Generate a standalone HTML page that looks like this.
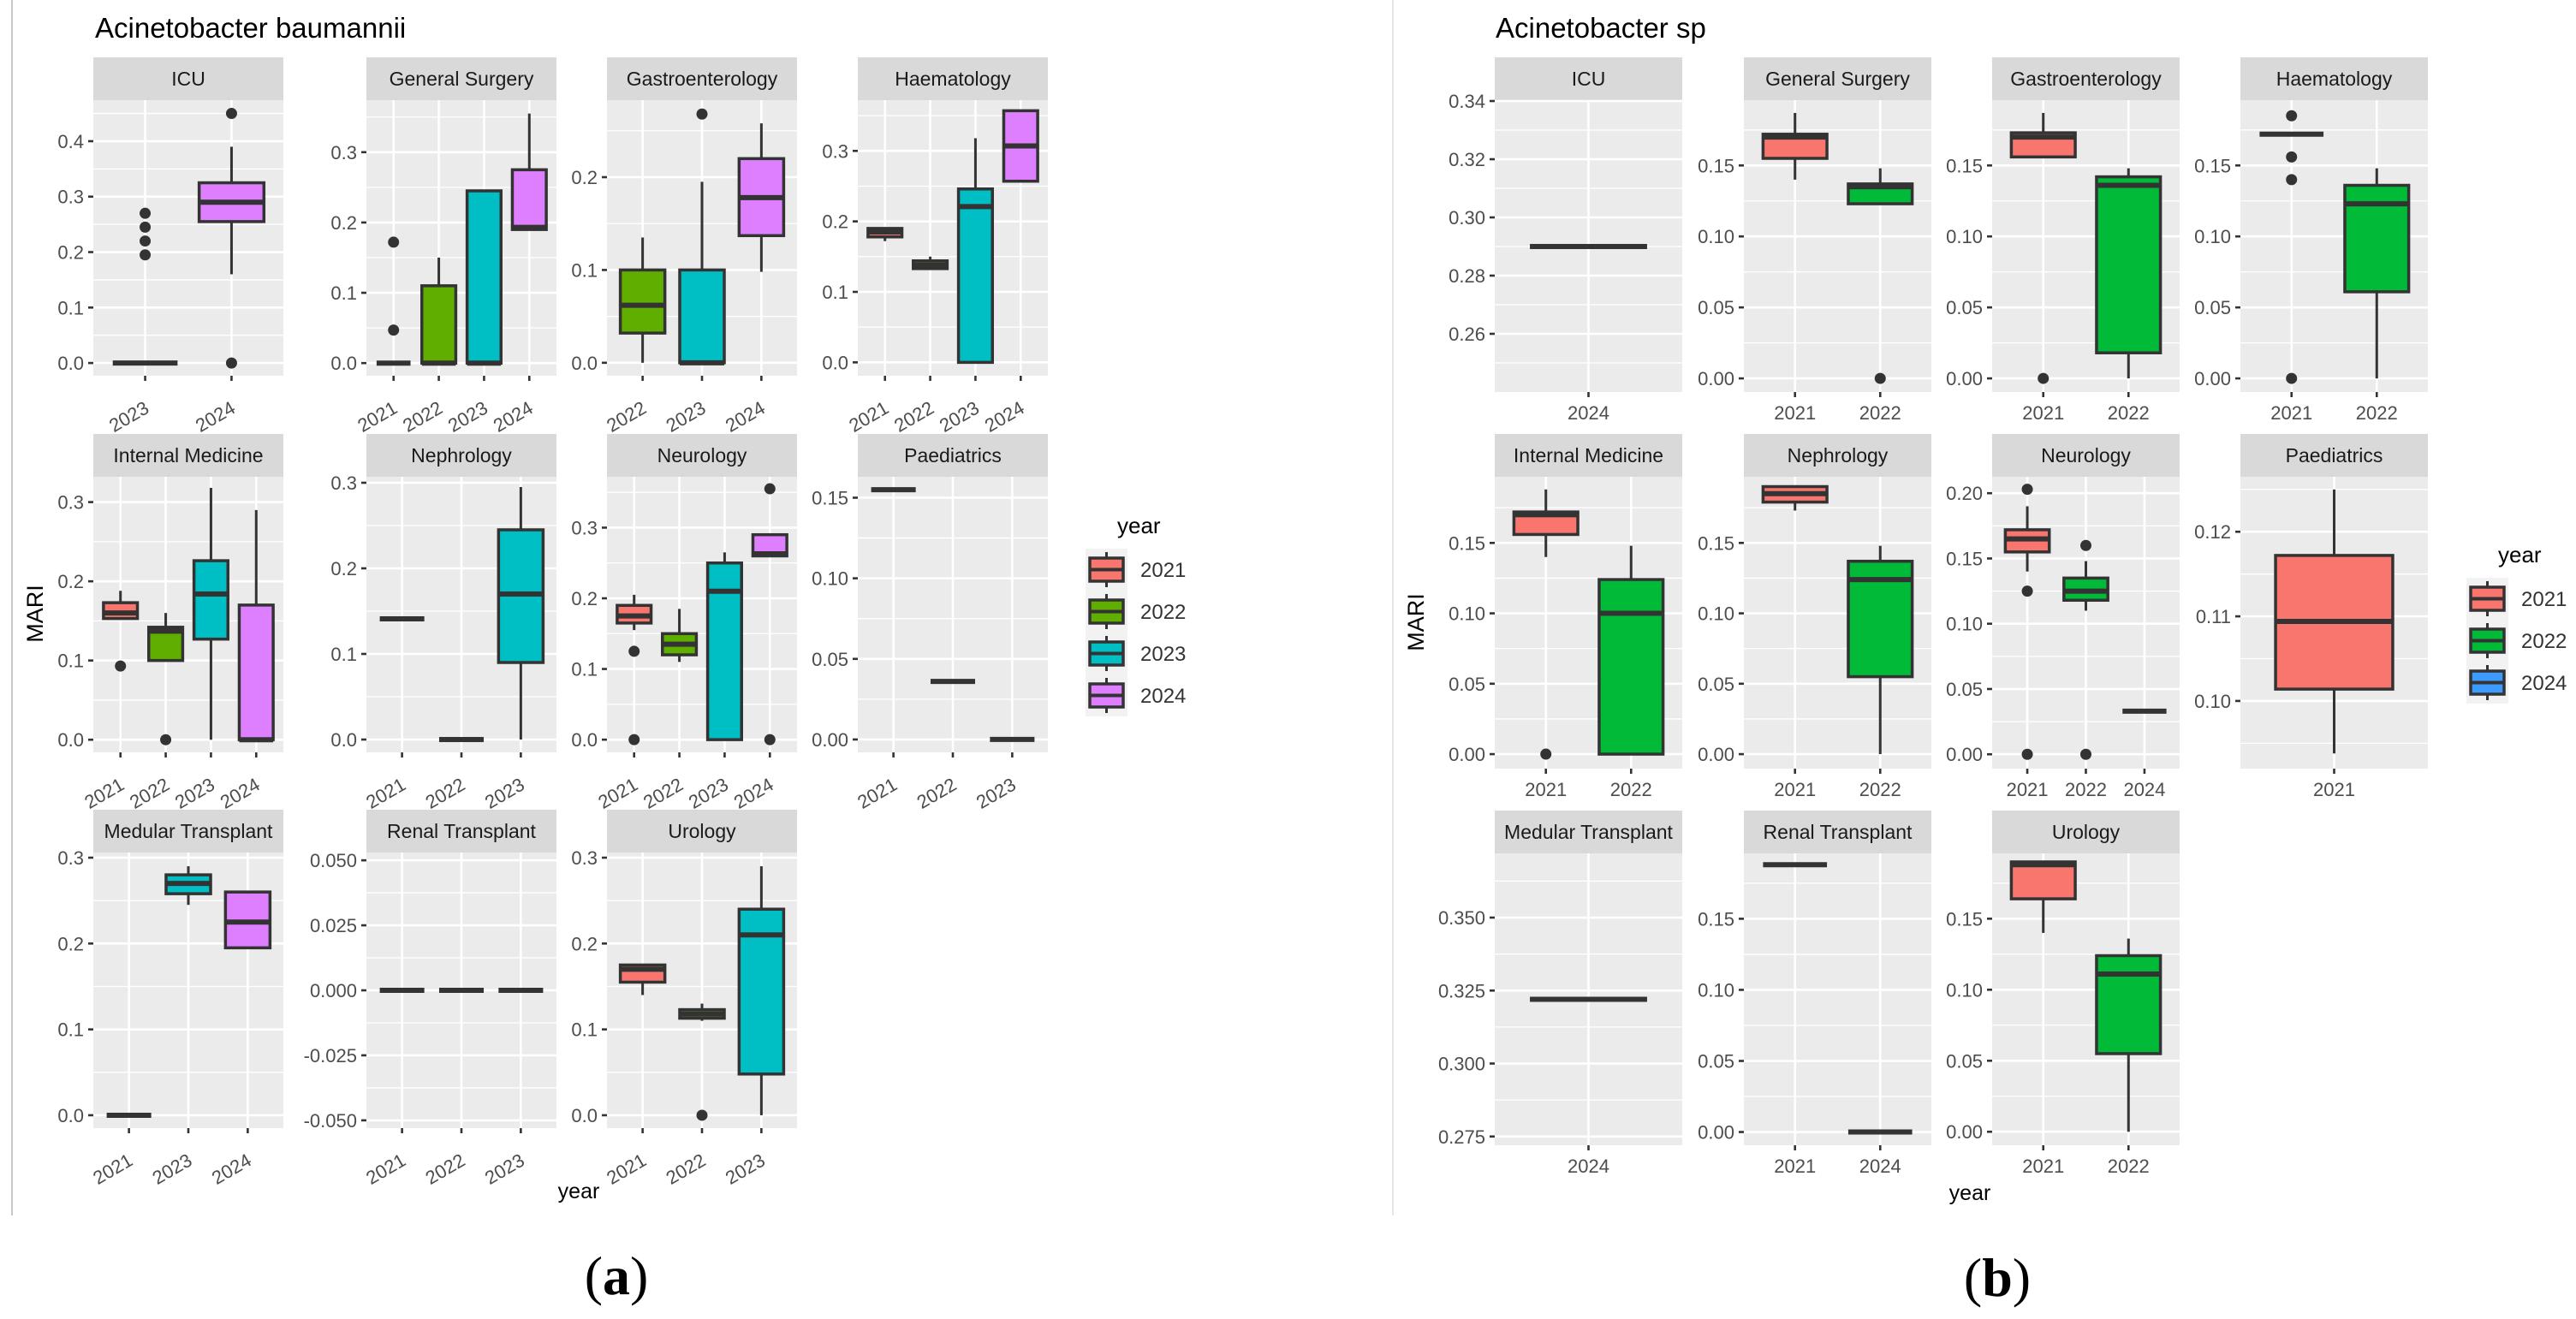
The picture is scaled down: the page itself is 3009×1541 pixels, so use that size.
<!DOCTYPE html>
<html><head><meta charset="utf-8"><title>MARI boxplots</title>
<style>
html,body{margin:0;padding:0;background:#fff;}
svg{display:block;font-family:"Liberation Sans",Arial,sans-serif;}
</style></head>
<body>
<svg id="fig" width="3009" height="1541" viewBox="0 0 3009 1541" xmlns="http://www.w3.org/2000/svg">
<rect x="0" y="0" width="3009" height="1541" fill="#fff"/>
<line x1="14" y1="0" x2="14" y2="1420" stroke="#c8c8c8" stroke-width="2"/>
<line x1="1627" y1="0" x2="1627" y2="1420" stroke="#e6e6e6" stroke-width="2"/>
<text x="111" y="44" font-size="33" fill="#000">Acinetobacter baumannii</text>
<text x="1747" y="44" font-size="33" fill="#000">Acinetobacter sp</text>
<text transform="translate(50,717) rotate(-90)" text-anchor="middle" font-size="27" fill="#000">MARI</text>
<text transform="translate(1663,727) rotate(-90)" text-anchor="middle" font-size="27" fill="#000">MARI</text>
<text x="676" y="1400" text-anchor="middle" font-size="25" fill="#000">year</text>
<text x="2301" y="1402" text-anchor="middle" font-size="25" fill="#000">year</text>
<text x="720" y="1512" text-anchor="middle" font-size="64" font-family="Liberation Serif, serif" fill="#000">(<tspan font-weight="bold">a</tspan>)</text>
<text x="2333" y="1514" text-anchor="middle" font-size="64" font-family="Liberation Serif, serif" fill="#000">(<tspan font-weight="bold">b</tspan>)</text>
<g id="chartA"></g>
<g id="chartB"></g>
</svg>
<script>
// ---------- Chart (a): Acinetobacter baumannii ----------
const aNames = ["ICU","General Surgery","Gastroenterology","Haematology","Internal Medicine","Nephrology","Neurology","Paediatrics","Medular Transplant","Renal Transplant","Urology"];
const aYears = [["2023","2024"],["2021","2022","2023","2024"],["2022","2023","2024"],["2021","2022","2023","2024"],["2021","2022","2023","2024"],["2021","2022","2023"],["2021","2022","2023","2024"],["2021","2022","2023"],["2021","2023","2024"],["2021","2022","2023"],["2021","2022","2023"]];
// stats per box: [lower whisker, q1, median, q3, upper whisker]
const aStats = [
 [[0,0,0,0,0],[0.16,0.255,0.29,0.325,0.39]],
 [[0,0,0,0,0],[0,0,0,0.11,0.15],[0,0,0,0.245,0.245],[0.19,0.19,0.193,0.275,0.355]],
 [[0,0.032,0.062,0.1,0.135],[0,0,0,0.1,0.195],[0.098,0.137,0.178,0.22,0.258]],
 [[0.172,0.178,0.185,0.19,0.19],[0.133,0.133,0.138,0.144,0.15],[0,0,0.221,0.246,0.318],[0.257,0.257,0.307,0.357,0.357]],
 [[0.153,0.153,0.16,0.173,0.188],[0.1,0.1,0.137,0.142,0.16],[0,0.127,0.184,0.226,0.318],[0,0,0,0.17,0.29]],
 [[0.141,0.141,0.141,0.141,0.141],[0,0,0,0,0],[0,0.09,0.17,0.245,0.295]],
 [[0.155,0.165,0.175,0.19,0.205],[0.11,0.12,0.135,0.15,0.185],[0,0,0.21,0.25,0.265],[0.26,0.26,0.263,0.29,0.29]],
 [[0.155,0.155,0.155,0.155,0.155],[0.036,0.036,0.036,0.036,0.036],[0,0,0,0,0]],
 [[0,0,0,0,0],[0.245,0.258,0.27,0.28,0.29],[0.195,0.195,0.225,0.26,0.26]],
 [[0,0,0,0,0],[0,0,0,0,0],[0,0,0,0,0]],
 [[0.14,0.155,0.17,0.175,0.175],[0.11,0.113,0.118,0.123,0.13],[0,0.048,0.21,0.24,0.29]]
];
const aOutliers = [
 [[0.195,0.22,0.245,0.27],[0.45,0]],
 [[0.047,0.172],[],[],[]],
 [[],[0.268],[]],
 [[],[],[],[]],
 [[0.093],[0],[],[]],
 [[],[],[]],
 [[0.125,0],[],[],[0.355,0]],
 [[],[],[]],
 [[],[],[]],
 [[],[],[]],
 [[],[0],[]]
];
const aTicks = [[0,0.1,0.2,0.3,0.4],[0,0.1,0.2,0.3],[0,0.1,0.2],[0,0.1,0.2,0.3],[0,0.1,0.2,0.3],[0,0.1,0.2,0.3],[0,0.1,0.2,0.3],[0,0.05,0.1,0.15],[0,0.1,0.2,0.3],[-0.05,-0.025,0,0.025,0.05],[0,0.1,0.2,0.3]];
const aRanges = [[-0.023,0.474],[-0.018,0.374],[-0.014,0.283],[-0.019,0.372],[-0.016,0.332],[-0.015,0.307],[-0.018,0.372],[-0.008,0.163],[-0.015,0.306],[-0.053,0.053],[-0.015,0.306]];
const aLegendYears = ["2021","2022","2023","2024"];

// ---------- Chart (b): Acinetobacter sp ----------
const bNames = ["ICU","General Surgery","Gastroenterology","Haematology","Internal Medicine","Nephrology","Neurology","Paediatrics","Medular Transplant","Renal Transplant","Urology"];
const bYears = [["2024"],["2021","2022"],["2021","2022"],["2021","2022"],["2021","2022"],["2021","2022"],["2021","2022","2024"],["2021"],["2024"],["2021","2024"],["2021","2022"]];
const bStats = [
 [[0.29,0.29,0.29,0.29,0.29]],
 [[0.14,0.155,0.17,0.172,0.187],[0.123,0.123,0.135,0.137,0.148]],
 [[0.156,0.156,0.17,0.173,0.187],[0,0.018,0.136,0.142,0.148]],
 [[0.172,0.172,0.172,0.172,0.172],[0,0.061,0.123,0.136,0.148]],
 [[0.14,0.156,0.17,0.172,0.188],[0,0,0.1,0.124,0.148]],
 [[0.173,0.179,0.185,0.19,0.19],[0,0.055,0.124,0.137,0.148]],
 [[0.14,0.155,0.165,0.172,0.19],[0.11,0.118,0.125,0.135,0.148],[0.033,0.033,0.033,0.033,0.033]],
 [[0.0938,0.1014,0.1094,0.1172,0.125]],
 [[0.322,0.322,0.322,0.322,0.322]],
 [[0.188,0.188,0.188,0.188,0.188],[0,0,0,0,0]],
 [[0.14,0.164,0.188,0.19,0.19],[0,0.055,0.111,0.124,0.136]]
];
const bOutliers = [
 [[]],
 [[],[0]],
 [[0],[]],
 [[0.185,0.156,0.14,0],[]],
 [[0],[]],
 [[],[]],
 [[0.203,0.125,0],[0.16,0],[]],
 [[]],
 [[]],
 [[],[]],
 [[],[]]
];
const bTicks = [[0.26,0.28,0.30,0.32,0.34],[0,0.05,0.1,0.15],[0,0.05,0.1,0.15],[0,0.05,0.1,0.15],[0,0.05,0.1,0.15],[0,0.05,0.1,0.15],[0,0.05,0.1,0.15,0.2],[0.10,0.11,0.12],[0.275,0.3,0.325,0.35],[0,0.05,0.1,0.15],[0,0.05,0.1,0.15]];
const bRanges = [[0.240,0.3403],[-0.0096,0.196],[-0.0096,0.196],[-0.0096,0.196],[-0.0103,0.197],[-0.0103,0.197],[-0.011,0.2126],[0.092,0.1265],[0.272,0.372],[-0.0093,0.196],[-0.0095,0.196]];
const bLegendYears = ["2021","2022","2024"];

const aColors = {"2021":"#F8766D","2022":"#5FAE00","2023":"#00BFC4","2024":"#DD7FFF"};
const bColors = {"2021":"#F8766D","2022":"#00BA38","2024":"#3D9BFF"};

// ---------- layout (not data) ----------
const SVGNS = "http://www.w3.org/2000/svg";
function mk(parent, tag, attrs){
  const e = document.createElementNS(SVGNS, tag);
  for (const k in attrs) e.setAttribute(k, attrs[k]);
  parent.appendChild(e);
  return e;
}
function decimals(ticks){
  let d = 0;
  ticks.forEach(t => { const s = String(+t.toFixed(6)); const i = s.indexOf('.'); if (i >= 0) d = Math.max(d, s.length - i - 1); });
  return d;
}
function slug(s){ return s.toLowerCase().replace(/[^a-z0-9]+/g,'-'); }

function drawPanel(root, L, name, years, stats, outs, ticks, range, colors, rotate, prefix){
  const g = mk(root, 'g', {});
  
  
  const x0 = L.x, w = L.w, sTop = L.sTop, pTop = sTop + L.sH, pBot = pTop + L.pH;
  const y = v => pBot - (v - range[0]) / (range[1] - range[0]) * (pBot - pTop);
  const n = years.length, unit = w / (n + 0.2);
  const xc = i => x0 + (i + 0.6) * unit;
  const strip = mk(g, 'rect', {x:x0, y:sTop, width:w, height:L.sH, fill:'#D9D9D9'});
  
  
  const st = mk(g, 'text', {x:x0 + w/2, y:sTop + L.sH/2 + 8, 'text-anchor':'middle', 'font-size':23, fill:'#1A1A1A'});
  st.textContent = name;
  
  
  const bg = mk(g, 'rect', {x:x0, y:pTop, width:w, height:L.pH, fill:'#EBEBEB'});
  
  
  const step = ticks.length > 1 ? ticks[1] - ticks[0] : 0.1;
  const minors = [];
  for (let i = -1; i < ticks.length; i++) {
    const m = (i < 0 ? ticks[0] - step/2 : ticks[i] + step/2);
    if (m > range[0] && m < range[1]) minors.push(m);
  }
  minors.forEach(m => {
    const ln = mk(g, 'line', {x1:x0, x2:x0 + w, y1:y(m), y2:y(m), stroke:'#fff', 'stroke-width':1.3});
    
    
  });
  const dec = decimals(ticks);
  ticks.forEach(t => {
    const ln = mk(g, 'line', {x1:x0, x2:x0 + w, y1:y(t), y2:y(t), stroke:'#fff', 'stroke-width':2.6});
    
    
    const tk = mk(g, 'line', {x1:x0 - 6, x2:x0, y1:y(t), y2:y(t), stroke:'#333', 'stroke-width':2.6});
    
    
    const lb = mk(g, 'text', {x:x0 - 11, y:y(t) + 8, 'text-anchor':'end', 'font-size':22, fill:'#4D4D4D'});
    lb.textContent = t.toFixed(dec);
    
    
  });
  years.forEach((yr, i) => {
    const ln = mk(g, 'line', {x1:xc(i), x2:xc(i), y1:pTop, y2:pBot, stroke:'#fff', 'stroke-width':2.6});
    
    
    const tk = mk(g, 'line', {x1:xc(i), x2:xc(i), y1:pBot, y2:pBot + 6, stroke:'#333', 'stroke-width':2.6});
    
    
    let lb;
    if (rotate) {
      lb = mk(g, 'text', {x:0, y:0, 'text-anchor':'end', 'font-size':22, fill:'#4D4D4D', transform:'translate(' + (xc(i) + 6) + ',' + (pBot + 42) + ') rotate(-30)'});
    } else {
      lb = mk(g, 'text', {x:xc(i), y:pBot + 32, 'text-anchor':'middle', 'font-size':22, fill:'#4D4D4D'});
    }
    lb.textContent = yr;
    
    
  });
  const bw = 0.75 * unit;
  stats.forEach((s, i) => {
    const bx = mk(g, 'g', {});
    
    
    const c = xc(i);
    mk(bx, 'line', {x1:c, x2:c, y1:y(s[3]), y2:y(s[4]), stroke:'#333', 'stroke-width':3});
    mk(bx, 'line', {x1:c, x2:c, y1:y(s[0]), y2:y(s[1]), stroke:'#333', 'stroke-width':3});
    mk(bx, 'rect', {x:c - bw/2, y:y(s[3]), width:bw, height:Math.max(0, y(s[1]) - y(s[3])), fill:colors[years[i]], stroke:'#333', 'stroke-width':3.5});
    mk(bx, 'line', {x1:c - bw/2, x2:c + bw/2, y1:y(s[2]), y2:y(s[2]), stroke:'#333', 'stroke-width':6});
    (outs[i] || []).forEach(o => {
      const pt = mk(bx, 'circle', {cx:c, cy:y(o), r:6.5, fill:'#333'});
      
      
    });
  });
}

function drawLegend(root, x, titleY, years, colors, prefix){
  const g = mk(root, 'g', {});
  
  
  const t = mk(g, 'text', {x:x + 37, y:titleY, 'font-size':26, fill:'#000'});
  t.textContent = 'year';
  
  
  const top = titleY + 18;
  years.forEach((yr, i) => {
    const e = mk(g, 'g', {});
    
    
    const ky = top + i * 49;
    mk(e, 'rect', {x:x, y:ky, width:49, height:49, fill:'#F2F2F2'});
    mk(e, 'line', {x1:x + 24.5, x2:x + 24.5, y1:ky + 4, y2:ky + 45, stroke:'#333', 'stroke-width':3});
    mk(e, 'rect', {x:x + 5, y:ky + 11, width:39, height:27, fill:colors[yr], stroke:'#333', 'stroke-width':3.5});
    mk(e, 'line', {x1:x + 5, x2:x + 44, y1:ky + 24.5, y2:ky + 24.5, stroke:'#333', 'stroke-width':4});
    const lb = mk(e, 'text', {x:x + 64, y:ky + 33, 'font-size':24, fill:'#333'});
    lb.textContent = yr;
    
    
  });
}

const aColX = [109, 428, 709, 1002], aRowY = [67, 507, 946];
const bColX = [1746, 2037, 2327, 2617], bRowY = [67, 507, 947];
const gridPos = [[0,0],[0,1],[0,2],[0,3],[1,0],[1,1],[1,2],[1,3],[2,0],[2,1],[2,2]];

const chartA = document.getElementById('chartA');
aNames.forEach((nm, k) => {
  const L = {x:aColX[gridPos[k][1]], w:222, sTop:aRowY[gridPos[k][0]], sH:50, pH:322};
  drawPanel(chartA, L, nm, aYears[k], aStats[k], aOutliers[k], aTicks[k], aRanges[k], aColors, true, 'a');
});
drawLegend(chartA, 1268, 623, aLegendYears, aColors, 'a');

const chartB = document.getElementById('chartB');
bNames.forEach((nm, k) => {
  const L = {x:bColX[gridPos[k][1]], w:219, sTop:bRowY[gridPos[k][0]], sH:50, pH:341};
  drawPanel(chartB, L, nm, bYears[k], bStats[k], bOutliers[k], bTicks[k], bRanges[k], bColors, false, 'b');
});
drawLegend(chartB, 2881, 657, bLegendYears, bColors, 'b');
</script>
</body></html>
